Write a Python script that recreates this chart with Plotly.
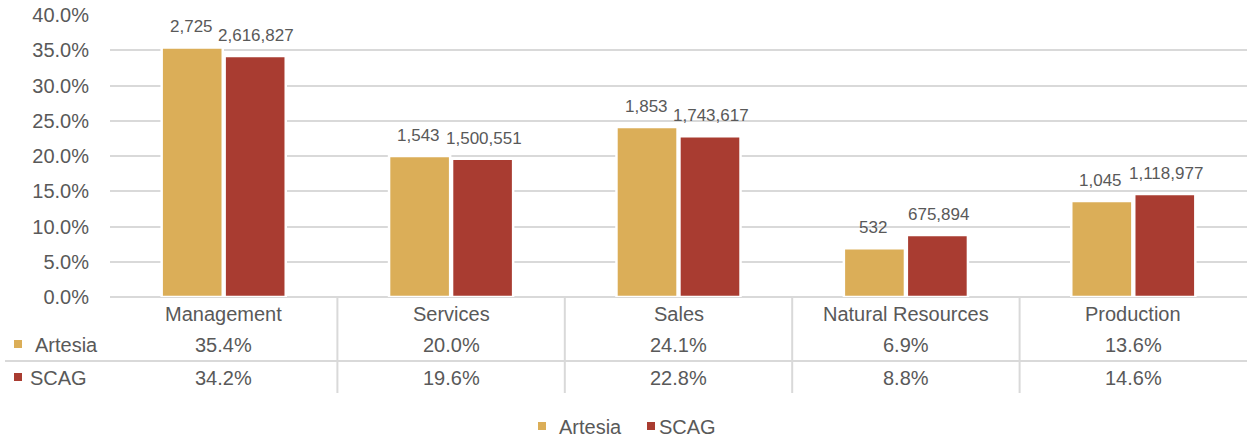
import plotly.graph_objects as go

categories = ["Management", "Services", "Sales", "Natural Resources", "Production"]
series_names = ["Artesia", "SCAG"]
artesia_pct = [35.4, 20.0, 24.1, 6.9, 13.6]
scag_pct = [34.2, 19.6, 22.8, 8.8, 14.6]
artesia_count = ["2,725", "1,543", "1,853", "532", "1,045"]
scag_count = ["2,616,827", "1,500,551", "1,743,617", "675,894", "1,118,977"]
y_ticks = [0, 5, 10, 15, 20, 25, 30, 35, 40]

colors = ["#DBAE58", "#A93C31"]
text_color = "#595959"
grid_color = "#D9D9D9"
font_family = "Liberation Sans, Arial, sans-serif"

W, H = 1247, 437
ml, mr, mt, mb = 110, 0, 15, 140
pw, ph = W - ml - mr, H - mt - mb


def px_x(p):
    return (p - ml) / pw


def px_y(p):
    return (H - mb - p) / ph


fig = go.Figure()
for name, vals, col in zip(series_names, [artesia_pct, scag_pct], colors):
    fig.add_trace(go.Bar(
        x=categories, y=vals, name=name,
        marker=dict(color=col, line=dict(color="white", width=2.5)),
        hoverinfo="skip", showlegend=False,
    ))

annotations = []
# data labels above bars
for vals, counts, shift in [(artesia_pct, artesia_count, -32.5), (scag_pct, scag_count, 32.5)]:
    for c, v, t in zip(categories, vals, counts):
        annotations.append(dict(
            x=c, y=v, xref="x", yref="y", text=t, showarrow=False,
            xshift=shift, yshift=9, yanchor="bottom", xanchor="center",
            font=dict(size=17, color=text_color, family=font_family),
        ))

# data table below the chart
row_y = [px_y(314), px_y(345), px_y(378.5)]
for c in categories:
    annotations.append(dict(x=c, y=row_y[0], xref="x", yref="paper", text=c,
                            showarrow=False, yanchor="middle",
                            font=dict(size=20, color=text_color, family=font_family)))
for r, vals in enumerate([artesia_pct, scag_pct]):
    for c, v in zip(categories, vals):
        annotations.append(dict(x=c, y=row_y[r + 1], xref="x", yref="paper",
                                text=f"{v:.1f}%", showarrow=False, yanchor="middle",
                                font=dict(size=20, color=text_color, family=font_family)))

row_label_x = [px_x(33), px_x(28)]
for r, name in enumerate(series_names):
    annotations.append(dict(x=row_label_x[r], y=row_y[r + 1], xref="paper", yref="paper",
                            text=name, showarrow=False, xanchor="left", yanchor="middle",
                            font=dict(size=20, color=text_color, family=font_family)))

shapes = []
for i in range(1, len(categories)):
    shapes.append(dict(type="line", xref="x", yref="paper", x0=i - 0.5, x1=i - 0.5,
                       y0=0, y1=px_y(393), line=dict(color=grid_color, width=2)))
shapes.append(dict(type="line", xref="paper", yref="paper", x0=px_x(5), x1=1,
                   y0=px_y(361), y1=px_y(361), line=dict(color=grid_color, width=2)))
key_centers = [344, 377]
for col, cy in zip(colors, key_centers):
    shapes.append(dict(type="rect", xref="paper", yref="paper",
                       x0=px_x(14), x1=px_x(22), y0=px_y(cy + 4), y1=px_y(cy - 4),
                       fillcolor=col, line=dict(width=0)))

# bottom legend
legend_y = 426
legend_keys = [(538, 557), (647, 657)]
for name, col, (kx, tx) in zip(series_names, colors, legend_keys):
    shapes.append(dict(type="rect", xref="paper", yref="paper",
                       x0=px_x(kx), x1=px_x(kx + 8), y0=px_y(legend_y + 4), y1=px_y(legend_y - 4),
                       fillcolor=col, line=dict(width=0)))
    annotations.append(dict(x=px_x(tx), y=px_y(legend_y + 1), xref="paper", yref="paper",
                            text=name, showarrow=False, xanchor="left", yanchor="middle",
                            font=dict(size=20, color=text_color, family=font_family)))

fig.update_layout(
    width=W, height=H,
    margin=dict(l=ml, r=mr, t=mt, b=mb, pad=0, autoexpand=False),
    paper_bgcolor="white", plot_bgcolor="white",
    barmode="group", bargap=0.446, bargroupgap=0.03,
    font=dict(family=font_family, color=text_color, size=20),
    showlegend=False,
    annotations=annotations,
    shapes=shapes,
)
fig.update_xaxes(showticklabels=False, showgrid=False, zeroline=False, showline=False,
                 range=[-0.5, len(categories) - 0.5], automargin=False)
fig.update_yaxes(range=[0, 40], tickvals=y_ticks, ticktext=[f"{t:.1f}%" for t in y_ticks],
                 showgrid=True, gridcolor=grid_color, gridwidth=1.5,
                 zeroline=True, zerolinecolor=grid_color, zerolinewidth=2,
                 ticks="outside", ticklen=16, tickcolor="rgba(0,0,0,0)", automargin=False,
                 tickfont=dict(size=20, color=text_color, family=font_family))

fig.write_html("out.html", config={"displayModeBar": False},
               post_script="document.body.style.margin='0px';document.body.style.overflow='hidden';")
